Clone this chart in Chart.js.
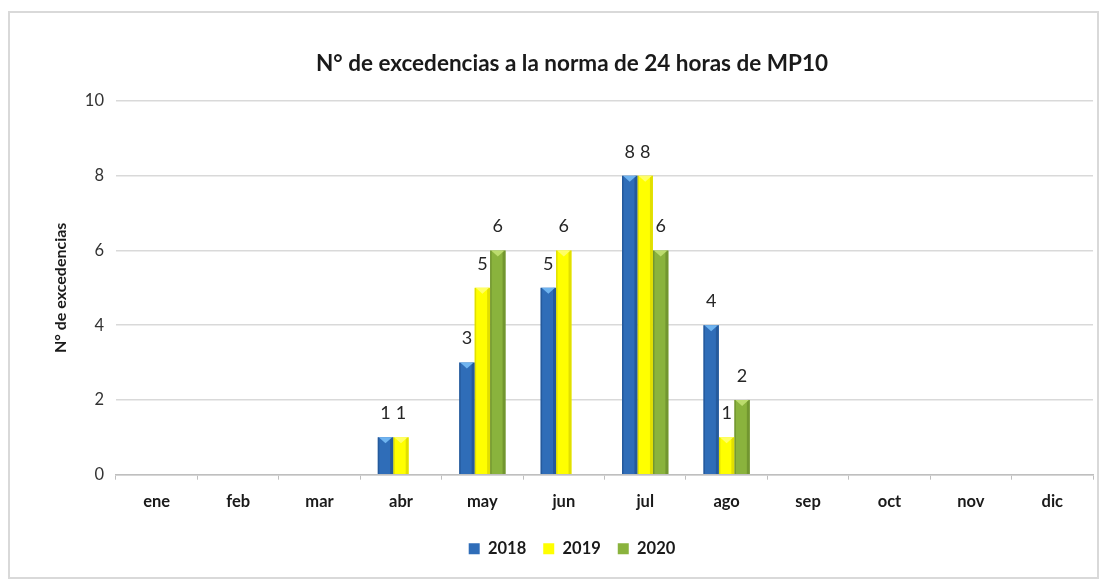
<!DOCTYPE html>
<html lang="es">
<head>
  <meta charset="UTF-8">
  <title>Excedencias MP10</title>
  <script src="https://cdn.jsdelivr.net/npm/chart.js@4.4.2/dist/chart.umd.min.js"></script>
  <style>
    html, body { margin: 0; padding: 0; background: #fff; }
    .wrap { position: relative; width: 1107px; height: 581px; }
  </style>
</head>
<body>
<div class="wrap">
  <canvas id="chart" width="1107" height="581"></canvas>
</div>
<script>
  // data
  const months = ['ene', 'feb', 'mar', 'abr', 'may', 'jun', 'jul', 'ago', 'sep', 'oct', 'nov', 'dic'];
  const v2018 = [null, null, null, 1, 3, 5, 8, 4, null, null, null, null];
  const v2019 = [null, null, null, 1, 5, 6, 8, 1, null, null, null, null];
  const v2020 = [null, null, null, null, 6, null, 6, 2, null, null, null, null];
  const yTicks = [0, 2, 4, 6, 8, 10];

  const FONT = 'Lato, "Open Sans", sans-serif';

  // shading per series: main, dark edge, light top chevron
  const shades = [
    { main: '#2f6db8', edge: '#1d4a85', top: '#6fb4f0' },
    { main: '#ffff00', edge: '#c9c400', top: '#ffff66' },
    { main: '#8ab33d', edge: '#5f7e27', top: '#bcdc6e' }
  ];

  const frame = {
    id: 'frame',
    beforeDraw(chart) {
      const c = chart.ctx;
      c.save();
      c.strokeStyle = '#d9d9d9';
      c.lineWidth = 2;
      c.strokeRect(9, 12, 1089, 566);
      c.restore();
    }
  };

  const bevel = {
    id: 'bevel',
    afterDatasetsDraw(chart) {
      const c = chart.ctx;
      chart.data.datasets.forEach((ds, i) => {
        const meta = chart.getDatasetMeta(i);
        const s = shades[i];
        meta.data.forEach((bar, j) => {
          if (ds.data[j] == null) return;
          const l = bar.x - bar.width / 2, r = bar.x + bar.width / 2;
          c.save();
          c.fillStyle = s.edge;
          c.globalAlpha = 0.55;
          c.fillRect(r - 3, bar.y, 3, bar.base - bar.y);
          c.fillRect(l, bar.y, 1.5, bar.base - bar.y);
          c.globalAlpha = 1;
          // top chevron
          c.fillStyle = s.top;
          c.beginPath();
          c.moveTo(l + 1, bar.y);
          c.lineTo(r - 1, bar.y);
          c.lineTo(bar.x, bar.y + 6);
          c.closePath();
          c.fill();
          c.restore();
        });
      });
    }
  };

  const valueLabels = {
    id: 'valueLabels',
    afterDatasetsDraw(chart) {
      const c = chart.ctx;
      c.save();
      c.font = '18px ' + FONT;
      c.fillStyle = '#262626';
      c.textAlign = 'center';
      c.textBaseline = 'middle';
      chart.data.datasets.forEach((ds, i) => {
        const meta = chart.getDatasetMeta(i);
        meta.data.forEach((bar, j) => {
          const v = ds.data[j];
          if (v == null) return;
          c.fillText(String(v), bar.x, bar.y - 24);
        });
      });
      c.restore();
    }
  };

  new Chart(document.getElementById('chart'), {
    type: 'bar',
    data: {
      labels: months,
      datasets: [
        { label: '2018', data: v2018, backgroundColor: shades[0].main },
        { label: '2019', data: v2019, backgroundColor: shades[1].main },
        { label: '2020', data: v2020, backgroundColor: shades[2].main }
      ]
    },
    options: {
      responsive: false,
      animation: false,
      categoryPercentage: 0.57,
      barPercentage: 1,
      layout: { padding: { left: 51, right: 14, top: 0, bottom: 14 } },
      plugins: {
        title: {
          display: true,
          text: 'N° de excedencias a la norma de 24 horas de MP10',
          color: '#1a1a1a',
          font: { family: FONT, size: 22.5, weight: 'bold' },
          padding: { top: 50, bottom: 24 }
        },
        legend: {
          position: 'bottom',
          labels: {
            color: '#1a1a1a',
            font: { family: FONT, size: 16.5, weight: 'bold' },
            boxWidth: 11,
            boxHeight: 11,
            padding: 17
          }
        },
        tooltip: { enabled: false }
      },
      scales: {
        x: {
          offset: true,
          grid: { display: true, drawOnChartArea: false, drawTicks: true, tickLength: 5, color: '#bfbfbf', offset: true },
          border: { color: '#bfbfbf', width: 1.5 },
          ticks: { color: '#1a1a1a', font: { family: FONT, size: 16.5, weight: 'bold' }, padding: 12 }
        },
        y: {
          min: 0,
          max: 10,
          afterFit(s) { s.width = 65; },
          afterBuildTicks(s) { s.ticks = yTicks.map(v => ({ value: v })); },
          grid: { color: '#d9d9d9', lineWidth: 1.5, drawTicks: false },
          border: { display: false },
          ticks: { color: '#333', font: { family: FONT, size: 16.5 }, padding: 12 },
          title: {
            display: true,
            text: 'N° de excedencias',
            color: '#1a1a1a',
            font: { family: FONT, size: 16, weight: 'bold' },
            padding: { top: 0, bottom: 10 }
          }
        }
      }
    },
    plugins: [frame, bevel, valueLabels]
  });
</script>
</body>
</html>
